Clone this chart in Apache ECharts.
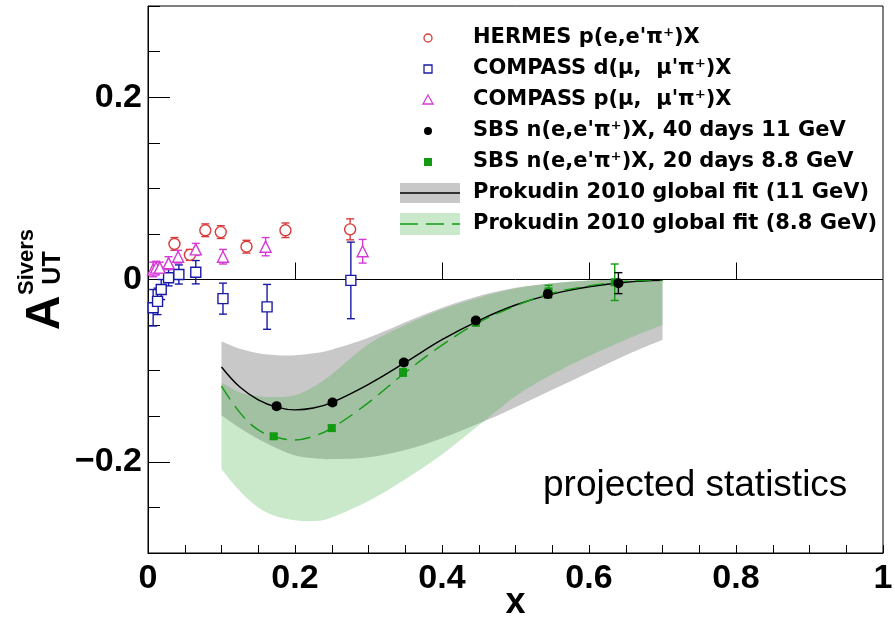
<!DOCTYPE html>
<html><head><meta charset="utf-8">
<script src="https://cdn.jsdelivr.net/npm/echarts@6/dist/echarts.min.js"></script>
<style>html,body{margin:0;padding:0;background:#fff}#c{width:895px;height:622px}</style>
</head><body><div id="c"></div>
<script>
// ---------- data ----------
const xTickLabels = [0, 0.2, 0.4, 0.6, 0.8, 1];
const yTickLabels = [-0.2, 0, 0.2];

const hermesX   = [0.036, 0.057, 0.078, 0.099, 0.134, 0.187, 0.275];
const hermesY   = [0.039, 0.027, 0.054, 0.052, 0.036, 0.054, 0.055];
const hermesErr = [0.007, 0.006, 0.007, 0.007, 0.007, 0.008, 0.0115];

const compDX   = [0.007, 0.013, 0.018, 0.028, 0.042, 0.065, 0.102, 0.162, 0.276];
const compDY   = [-0.031, -0.024, -0.011, 0.002, 0.0055, 0.008, -0.021, -0.030, -0.001];
const compDErr = [0.020, 0.0145, 0.011, 0.009, 0.0105, 0.0128, 0.017, 0.0246, 0.042];

const compPX   = [0.007, 0.011, 0.016, 0.028, 0.041, 0.065, 0.102, 0.160, 0.292];
const compPY   = [0.011, 0.013, 0.013, 0.018, 0.025, 0.033, 0.025, 0.036, 0.031];
const compPErr = [0.008, 0.007, 0.006, 0.007, 0.007, 0.0066, 0.008, 0.010, 0.013];

const sbs11X   = [0.175, 0.251, 0.348, 0.446, 0.544, 0.640];
const sbs11Y   = [-0.139, -0.135, -0.091, -0.045, -0.016, -0.004];
const sbs11Err = [0.003, 0.003, 0.003, 0.003, 0.004, 0.0115];

const sbs88X   = [0.171, 0.250, 0.347, 0.446, 0.545, 0.635];
const sbs88Y   = [-0.172, -0.163, -0.102, -0.047, -0.013, -0.003];
const sbs88Err = [0.003, 0.003, 0.004, 0.004, 0.0066, 0.020];

const fitX     = [0.1, 0.125, 0.15, 0.175, 0.2, 0.225, 0.25, 0.3, 0.35, 0.4, 0.45, 0.5, 0.55, 0.6, 0.65, 0.7];
const fit11    = [-0.096, -0.118, -0.132, -0.140, -0.143, -0.141, -0.135, -0.115, -0.091, -0.066, -0.045, -0.028, -0.016, -0.008, -0.003, -0.001];
const fit88    = [-0.117, -0.146, -0.165, -0.173, -0.176, -0.172, -0.163, -0.135, -0.102, -0.072, -0.047, -0.029, -0.015, -0.007, -0.002, -0.0005];
const band11Hi = [-0.068, -0.076, -0.081, -0.083, -0.083, -0.081, -0.077, -0.064, -0.047, -0.031, -0.018, -0.009, -0.004, -0.001, 0, 0];
const band11Lo = [-0.149, -0.163, -0.175, -0.185, -0.193, -0.196, -0.197, -0.195, -0.187, -0.174, -0.158, -0.140, -0.121, -0.102, -0.083, -0.066];
const band88Hi = [-0.113, -0.124, -0.128, -0.129, -0.127, -0.118, -0.104, -0.071, -0.050, -0.033, -0.020, -0.010, -0.004, -0.001, 0, 0];
const band88Lo = [-0.208, -0.232, -0.250, -0.260, -0.264, -0.265, -0.261, -0.243, -0.219, -0.192, -0.160, -0.128, -0.104, -0.084, -0.066, -0.050];

const legendNames = [
  "HERMES p(e,e'\u03c0\u207a)X",
  "COMPASS d(\u03bc,  \u03bc'\u03c0\u207a)X",
  "COMPASS p(\u03bc,  \u03bc'\u03c0\u207a)X",
  "SBS n(e,e'\u03c0\u207a)X, 40 days 11 GeV",
  "SBS n(e,e'\u03c0\u207a)X, 20 days 8.8 GeV",
  "Prokudin 2010 global fit (11 GeV)",
  "Prokudin 2010 global fit (8.8 GeV)"
];

// ---------- styles ----------
const FONT = "'Liberation Sans', Arial, Helvetica, sans-serif";
const LFONT = "'DejaVu Sans', 'Liberation Sans', sans-serif";
const RED = '#d83a3a', BLUE = '#1a1aa8', MAG = '#d63ad6', GREEN = '#139a13', BLACK = '#000';
const GREY_BAND = '#c8c8c8', GREEN_BAND = 'rgba(60,170,60,0.27)';

const zip3 = (a, b, c) => a.map((v, i) => [v, b[i], c[i]]);
const zip2 = (a, b) => a.map((v, i) => [v, b[i]]);

function errRender(color, cap) {
  return function (params, api) {
    const x = api.value(0), y = api.value(1), e = api.value(2);
    const t = api.coord([x, y + e]);
    const b = api.coord([x, y - e]);
    const w = cap / 2;
    const st = { stroke: color, lineWidth: 1.4 };
    return { type: 'group', children: [
      { type: 'line', shape: { x1: t[0], y1: t[1], x2: b[0], y2: b[1] }, style: st },
      { type: 'line', shape: { x1: t[0] - w, y1: t[1], x2: t[0] + w, y2: t[1] }, style: st },
      { type: 'line', shape: { x1: b[0] - w, y1: b[1], x2: b[0] + w, y2: b[1] }, style: st }
    ]};
  };
}
function errSeries(name, data, color, cap) {
  return { type: 'custom', name: name, data: data, renderItem: errRender(color, cap),
           encode: { x: 0, y: 1 }, silent: true, z: 5 };
}
function markerSeries(name, data, symbol, size, fill, stroke) {
  return { type: 'scatter', name: name, data: data, symbol: symbol, symbolSize: size, z: 6,
           itemStyle: { color: fill, borderColor: stroke, borderWidth: fill === '#fff' ? 1.4 : 0, opacity: 1 } };
}
// Catmull-Rom spline through pixel points -> cubic bezier path segments
function splineSegs(pts) {
  let d = '';
  for (let i = 0; i < pts.length - 1; i++) {
    const p0 = pts[i - 1] || pts[i], p1 = pts[i], p2 = pts[i + 1], p3 = pts[i + 2] || pts[i + 1];
    const c1 = [p1[0] + (p2[0] - p0[0]) / 6, p1[1] + (p2[1] - p0[1]) / 6];
    const c2 = [p2[0] - (p3[0] - p1[0]) / 6, p2[1] - (p3[1] - p1[1]) / 6];
    d += ' C' + c1[0] + ',' + c1[1] + ' ' + c2[0] + ',' + c2[1] + ' ' + p2[0] + ',' + p2[1];
  }
  return d;
}
function bandSeries(name, lo, hi, color) {
  return {
    type: 'custom', name: name, silent: true, z: 1,
    data: fitX.map((x, i) => [x, lo[i], hi[i]]),
    encode: { x: 0, y: [1, 2] },
    renderItem: function (params, api) {
      if (params.dataIndex !== 0) return null;
      const up = fitX.map((x, i) => api.coord([x, hi[i]]));
      const dn = fitX.map((x, i) => api.coord([x, lo[i]])).reverse();
      const d = 'M' + up[0][0] + ',' + up[0][1] + splineSegs(up) +
                ' L' + dn[0][0] + ',' + dn[0][1] + splineSegs(dn) + ' Z';
      return { type: 'path', shape: { pathData: d }, style: { fill: color, stroke: null } };
    }
  };
}

const chart = echarts.init(document.getElementById('c'), null, { renderer: 'canvas' });

const fmt = v => (Math.abs(v) < 1e-9 ? '0' : (v < 0 ? '\u2212' + String(+(-v).toFixed(1)) : String(+v.toFixed(1))));
const tickFont = { fontFamily: FONT, fontWeight: 'bold', fontSize: 34, color: '#000' };

// legend built from graphic elements
const LX = 428, TX = 473, LY0 = 38, LDY = 31;
const legendGraphics = [];
legendNames.forEach((n, i) => {
  legendGraphics.push({ type: 'text', x: TX, y: LY0 + i * LDY, z: 100,
    style: { text: n, font: "bold 21px " + LFONT, fill: '#000', textVerticalAlign: 'middle', textAlign: 'left' } });
});
legendGraphics.push(
  { type: 'circle', z: 100, shape: { cx: LX, cy: LY0, r: 4 }, style: { fill: '#fff', stroke: RED, lineWidth: 1.3 } },
  { type: 'rect', z: 100, shape: { x: LX - 4, y: LY0 + LDY - 4, width: 8, height: 8 }, style: { fill: '#fff', stroke: BLUE, lineWidth: 1.3 } },
  { type: 'polygon', z: 100, shape: { points: [[LX, LY0 + 2 * LDY - 5], [LX + 5, LY0 + 2 * LDY + 4], [LX - 5, LY0 + 2 * LDY + 4]] }, style: { fill: '#fff', stroke: MAG, lineWidth: 1.3 } },
  { type: 'circle', z: 100, shape: { cx: LX, cy: LY0 + 3 * LDY, r: 4 }, style: { fill: BLACK } },
  { type: 'rect', z: 100, shape: { x: LX - 4, y: LY0 + 4 * LDY - 4, width: 8, height: 8 }, style: { fill: GREEN } },
  { type: 'rect', z: 100, shape: { x: 400, y: LY0 + 5 * LDY - 10, width: 60, height: 20 }, style: { fill: GREY_BAND } },
  { type: 'line', z: 101, shape: { x1: 400, y1: LY0 + 5 * LDY, x2: 460, y2: LY0 + 5 * LDY }, style: { stroke: '#000', lineWidth: 1.5 } },
  { type: 'rect', z: 100, shape: { x: 400, y: LY0 + 6 * LDY - 11, width: 60, height: 22 }, style: { fill: GREEN_BAND } },
  { type: 'line', z: 101, shape: { x1: 400, y1: LY0 + 6 * LDY, x2: 460, y2: LY0 + 6 * LDY }, style: { stroke: GREEN, lineWidth: 1.5, lineDash: [18, 8] } }
);

const gridBox = { left: 148, right: 12, top: 6, bottom: 69, outerBoundsMode: 'none', containLabel: false };

const option = {
  animation: false,
  backgroundColor: '#fff',
  grid: [
    Object.assign({ show: true, borderColor: '#000', borderWidth: 1, backgroundColor: 'transparent' }, gridBox),
    Object.assign({ show: false }, gridBox)
  ],
  xAxis: [
    { type: 'value', gridIndex: 0, min: 0, max: 1, interval: 0.05, position: 'bottom',
      axisLine: { show: true, onZero: false, lineStyle: { color: '#000', width: 1 } },
      axisTick: { inside: true, length: 8, lineStyle: { color: '#000', width: 1 } },
      axisLabel: Object.assign({ customValues: xTickLabels, formatter: fmt, margin: 9, hideOverlap: false }, tickFont),
      splitLine: { show: false },
      name: 'x', nameLocation: 'middle', nameGap: 32, nameMoveOverlap: false,
      nameTextStyle: { fontFamily: FONT, fontWeight: 'bold', fontSize: 36, color: '#000' } },
    { type: 'value', gridIndex: 1, min: 0, max: 1, position: 'bottom',
      axisLine: { show: false }, axisLabel: { show: false }, splitLine: { show: false },
      axisTick: { show: true, inside: true, length: 17, customValues: [0.2, 0.4, 0.6, 0.8], lineStyle: { color: '#000', width: 1 } } }
  ],
  yAxis: [
    { type: 'value', gridIndex: 0, min: -0.3, max: 0.3, interval: 0.05, position: 'left',
      axisLine: { show: true, onZero: false, lineStyle: { color: '#000', width: 1 } },
      axisTick: { inside: true, length: 12, lineStyle: { color: '#000', width: 1 } },
      axisLabel: Object.assign({ customValues: yTickLabels, formatter: fmt, margin: 6 }, tickFont),
      splitLine: { show: false } },
    { type: 'value', gridIndex: 1, min: -0.3, max: 0.3, position: 'left',
      axisLine: { show: false }, axisLabel: { show: false }, splitLine: { show: false },
      axisTick: { show: true, inside: true, length: 22, customValues: [-0.2, 0.2], lineStyle: { color: '#000', width: 1 } } }
  ],
  graphic: [
    { type: 'text', x: 46, y: 313, rotation: Math.PI / 2, z: 100,
      style: { text: 'A', font: 'bold 48px ' + FONT, fill: '#000', textAlign: 'center', textVerticalAlign: 'middle' } },
    { type: 'text', x: 53, y: 268, rotation: Math.PI / 2, z: 100,
      style: { text: 'UT', font: 'bold 25px ' + FONT, fill: '#000', textAlign: 'center', textVerticalAlign: 'middle' } },
    { type: 'text', x: 27, y: 262, rotation: Math.PI / 2, z: 100,
      style: { text: 'Sivers', font: 'bold 22px ' + FONT, fill: '#000', textAlign: 'center', textVerticalAlign: 'middle' } },
    { type: 'text', x: 543, y: 486, z: 100,
      style: { text: 'projected statistics', font: '37px ' + FONT, fill: '#000', textAlign: 'left', textVerticalAlign: 'middle' } }
  ].concat(legendGraphics),
  series: [
    bandSeries('band11', band11Lo, band11Hi, GREY_BAND),
    bandSeries('band88', band88Lo, band88Hi, GREEN_BAND),
    { type: 'line', name: legendNames[5], data: zip2(fitX, fit11), smooth: 0.4, symbol: 'none', z: 3,
      lineStyle: { color: '#000', width: 1.4 },
      markLine: { silent: true, symbol: 'none', label: { show: false },
        lineStyle: { color: '#000', width: 1, type: 'solid' }, data: [{ yAxis: 0 }] } },
    { type: 'line', name: legendNames[6], data: zip2(fitX, fit88), smooth: 0.4, symbol: 'none', z: 3,
      lineStyle: { color: GREEN, width: 1.4, type: [16, 8] } },
    errSeries('err1', zip3(hermesX, hermesY, hermesErr), RED, 8),
    errSeries('err2', zip3(compDX, compDY, compDErr), BLUE, 8),
    errSeries('err3', zip3(compPX, compPY, compPErr), MAG, 8),
    errSeries('err5', zip3(sbs88X, sbs88Y, sbs88Err), GREEN, 8),
    errSeries('err4', zip3(sbs11X, sbs11Y, sbs11Err), BLACK, 8),
    markerSeries(legendNames[0], zip2(hermesX, hermesY), 'circle', 11, '#fff', RED),
    markerSeries(legendNames[1], zip2(compDX, compDY), 'rect', 10, '#fff', BLUE),
    markerSeries(legendNames[2], zip2(compPX, compPY), 'triangle', 11, '#fff', MAG),
    markerSeries(legendNames[4], zip2(sbs88X, sbs88Y), 'rect', 8, GREEN, GREEN),
    markerSeries(legendNames[3], zip2(sbs11X, sbs11Y), 'circle', 10, BLACK, BLACK)
  ]
};
chart.setOption(option);
</script></body></html>
